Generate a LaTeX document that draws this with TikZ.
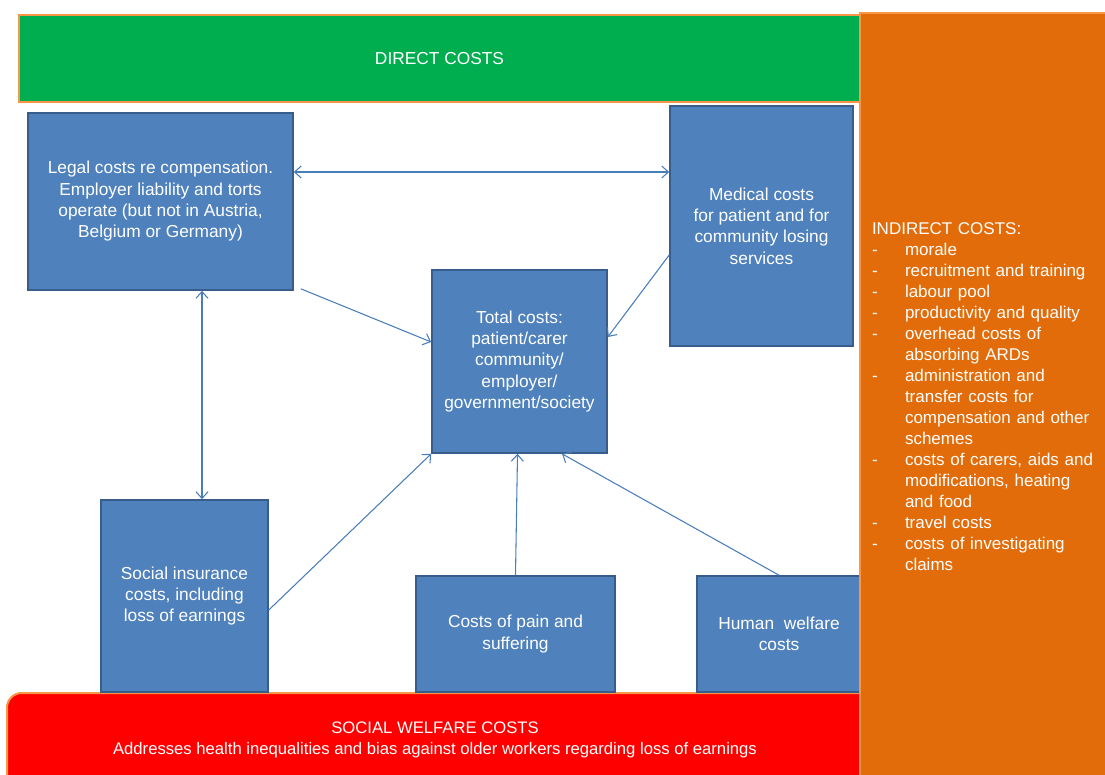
\documentclass[tikz,border=0pt]{standalone}
\usepackage{fontspec}
\setmainfont{Liberation Sans}
\usetikzlibrary{arrows.meta}

\definecolor{boxblue}{HTML}{4F81BD}
\definecolor{boxedge}{HTML}{385D8A}
\definecolor{linkblue}{HTML}{4A7EBB}
\definecolor{directgreen}{HTML}{00AD4F}
\definecolor{indirectorange}{HTML}{E36C0A}
\definecolor{baredge}{HTML}{F79646}
\definecolor{welfarered}{HTML}{FF0000}

\newcommand{\ditem}[1]{\makebox[24.75pt][l]{-}#1}
\newcommand{\dcont}[1]{\hspace*{24.75pt}#1}

\begin{document}
\begin{tikzpicture}[x=0.75pt,y=-0.75pt,
  >={Straight Barb[length=5pt,width=9pt]},
  costbox/.style={draw=boxedge,line width=1.2pt,fill=boxblue,text=white,
    align=center,inner sep=0pt,font=\fontsize{13}{16}\selectfont},
  link/.style={draw=linkblue,line width=0.8pt},
  bar/.style={draw=baredge,line width=1.5pt,text=white,inner sep=0pt,
    font=\fontsize{13}{16}\selectfont}]
  % Frame
  \clip (0,0) rectangle (1105,774);
  % Direct costs bar
  \node[bar,fill=directgreen,minimum width=630.75pt,minimum height=65.25pt]
    (direct) at (439.5,58.5) {DIRECT COSTS};
  % Social welfare bar
  \node[bar,fill=welfarered,rounded corners=11pt,minimum width=654.75pt,
    minimum height=80.25pt] (welfare) at (443.5,746.5) {};
  \node[text=white,align=center,font=\fontsize{12.5}{15.75}\selectfont]
    (welfaretext) at (435,740) {SOCIAL WELFARE COSTS\\
    Addresses health inequalities and bias against older workers regarding loss of earnings};
  % Cost boxes
  \node[costbox,minimum width=198.75pt,minimum height=132.75pt]
    (legal) at (160.5,201.5) {Legal costs re compensation.\\
    Employer liability and torts\\operate (but not in Austria,\\Belgium or Germany)};
  \node[costbox,minimum width=137.25pt,minimum height=180pt]
    (medical) at (761.5,226) {Medical costs\\for patient and for\\community losing\\services};
  \node[costbox,minimum width=131.25pt,minimum height=137.25pt]
    (total) at (519.5,361.5) {Total costs:\\patient/carer\\community/\\employer/\\government/society};
  \node[costbox,minimum width=125.25pt,minimum height=144pt]
    (social) at (184.5,596) {Social insurance\\costs, including\\loss of earnings};
  \node[costbox,minimum width=149.25pt,minimum height=87pt]
    (pain) at (515.5,634) {Costs of pain and\\suffering};
  \node[costbox,minimum width=123pt,minimum height=87pt]
    (human) at (779,634) {Human\ \ welfare\\costs};
  % Links
  \draw[link,<->] (legal.east |- 0,172) -- (medical.west |- 0,172);
  \draw[link,<->] (legal.south -| 202,0) -- (social.north -| 202,0);
  \draw[link,->] ([shift={(7,-2)}]legal.south east) -- ([shift={(0,-19.5)}]total.west);
  \draw[link,->] ([shift={(0,29)}]medical.west) -- ([shift={(0,-24.5)}]total.east);
  \draw[link,->] ([shift={(0,14)}]social.east) -- (total.south west);
  \draw[link,->] (pain.north) -- ([shift={(-2,0)}]total.south);
  \draw[link,->] (human.north) -- ([shift={(42.5,0)}]total.south);
  % Indirect costs panel
  \node[bar,fill=indirectorange,minimum width=195pt,minimum height=575.25pt,
    text width=177pt,inner xsep=9pt,align=left,
    font=\fontsize{12.75}{15.75}\selectfont]
    (indirect) at (990,396.5) {INDIRECT COSTS:\\
    \ditem{morale}\\
    \ditem{recruitment and training}\\
    \ditem{labour pool}\\
    \ditem{productivity and quality}\\
    \ditem{overhead costs of}\\
    \dcont{absorbing ARDs}\\
    \ditem{administration and}\\
    \dcont{transfer costs for}\\
    \dcont{compensation and other}\\
    \dcont{schemes}\\
    \ditem{costs of carers, aids and}\\
    \dcont{modifications, heating}\\
    \dcont{and food}\\
    \ditem{travel costs}\\
    \ditem{costs of investigating}\\
    \dcont{claims}};
\end{tikzpicture}
\end{document}
